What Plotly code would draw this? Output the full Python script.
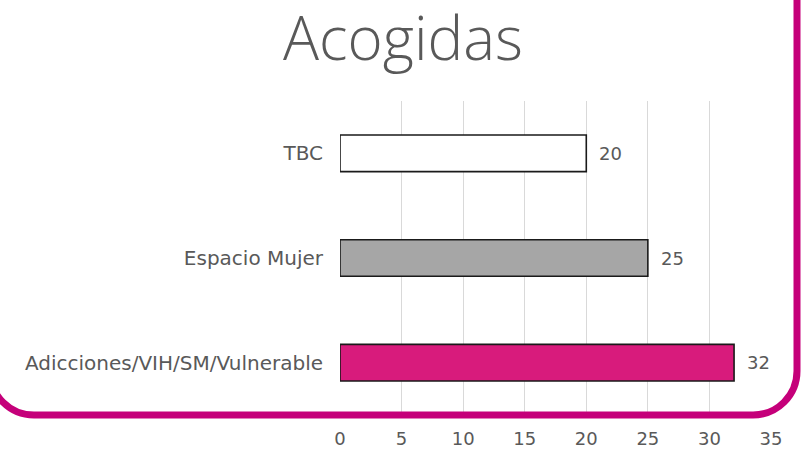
import plotly.graph_objects as go

categories = ["Adicciones/VIH/SM/Vulnerable", "Espacio Mujer", "TBC"]
values = [32, 25, 20]
bar_colors = ["#d81b7c", "#a6a6a6", "#ffffff"]
x_ticks = [0, 5, 10, 15, 20, 25, 30, 35]
title_text = "Acogidas"

W, H = 801, 450
ML, MR, MT, MB = 340, 30, 101, 35
PW = W - ML - MR
PH = H - MT - MB

def px(x):
    return (x - ML) / PW

def py(y):
    return (H - MB - y) / PH

TEXT = "#595959"
FONT = "DejaVu Sans"

fig = go.Figure()
fig.add_trace(go.Bar(
    y=categories, x=values, orientation="h",
    marker=dict(color=bar_colors, line=dict(color="#1a1a1a", width=1.6)),
    width=0.35, hoverinfo="skip",
))

for c, v in zip(categories, values):
    fig.add_annotation(x=v, y=c, xref="x", yref="y", text=str(v),
                       showarrow=False, xanchor="left", xshift=11,
                       font=dict(family=FONT, size=18, color=TEXT))

# rounded card border (pixel geometry converted to paper units)
L, R, B, T, r = -10, 797, 415, -30, 44
k = 0.5523 * r
path = (
    f"M {px(L)},{py(T)} L {px(L)},{py(B - r)} "
    f"C {px(L)},{py(B - r + k)} {px(L + r - k)},{py(B)} {px(L + r)},{py(B)} "
    f"L {px(R - r)},{py(B)} "
    f"C {px(R - r + k)},{py(B)} {px(R)},{py(B - r + k)} {px(R)},{py(B - r)} "
    f"L {px(R)},{py(T)}"
)
fig.add_shape(type="path", path=path, xref="paper", yref="paper",
              line=dict(color="#c5007a", width=7), layer="above")

fig.update_layout(
    width=W, height=H,
    margin=dict(l=ML, r=MR, t=MT, b=MB, pad=0, autoexpand=False),
    paper_bgcolor="white", plot_bgcolor="white",
    showlegend=False,
    title=dict(text=title_text, x=403 / W, xanchor="center",
               y=1 - 39 / H, yanchor="middle", yref="container",
               font=dict(family="Open Sans", size=60, color=TEXT, weight=300)),
    xaxis=dict(range=[0, 35], tickvals=x_ticks, showgrid=True,
               gridcolor="#d9d9d9", gridwidth=1, zeroline=False,
               showline=False, ticks="", ticklabelstandoff=11,
               automargin=False,
               tickfont=dict(family=FONT, size=18, color=TEXT),
               fixedrange=True),
    yaxis=dict(range=[-0.5, 2.5], showgrid=False, zeroline=False,
               showline=False, ticks="", ticklabelstandoff=16,
               automargin=False,
               tickfont=dict(family=FONT, size=20, color=TEXT),
               fixedrange=True),
)

fig.write_html(
    "out.html",
    config={"displayModeBar": False},
    post_script="document.body.style.margin='0';document.body.style.overflow='hidden';",
)
